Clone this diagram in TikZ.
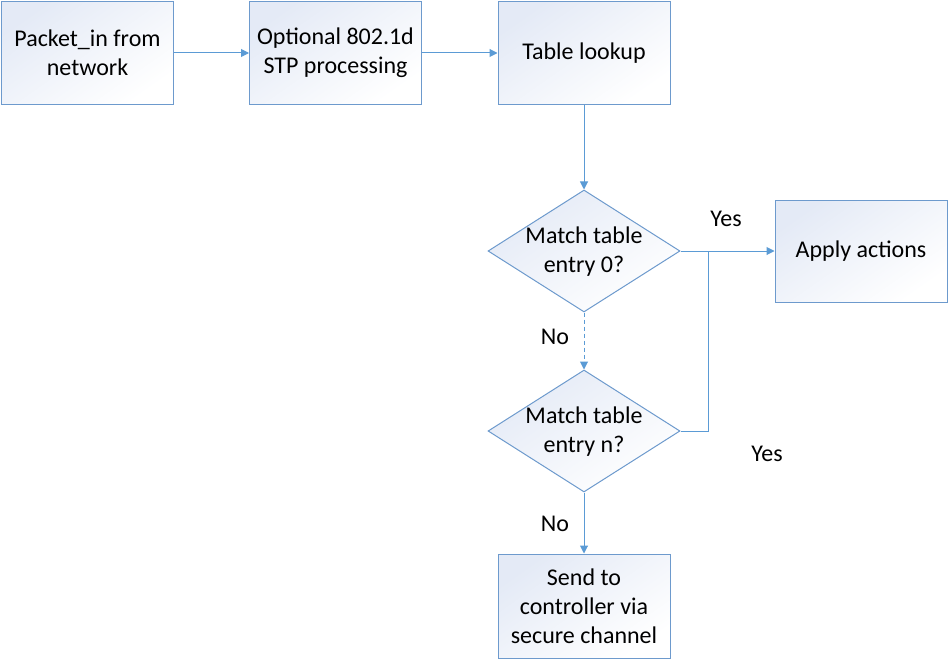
\documentclass[tikz,border=0pt]{standalone}
\usepackage{fontspec}
\setmainfont{Carlito}
\usetikzlibrary{shapes.geometric,arrows.meta}
\definecolor{edge}{RGB}{109,154,205}
\definecolor{wire}{RGB}{91,155,213}
\definecolor{tint}{RGB}{228,234,246}
\tikzset{
  x=1pt,y=-1pt,
  every node/.style={font=\fontsize{24}{29}\selectfont, text=black},
  stepbox/.style={draw=edge, line width=1pt, top color=tint, bottom color=white, shading angle=35,
    minimum width=172pt, minimum height=102pt, inner sep=0pt, align=center},
  decide/.style={diamond, draw=edge, line width=1pt, top color=tint, bottom color=white, shading angle=35,
    minimum width=192pt, minimum height=122pt, inner sep=0pt, aspect=1.57},
  wireline/.style={draw=wire, line width=1pt},
  arr/.style={wireline, -{Triangle[length=8pt,width=8pt]}},
  lbl/.style={inner sep=0pt}
}
\begin{document}
\begin{tikzpicture}
\useasboundingbox (0,0) rectangle (949,661);
\node[stepbox] (a) at (87.5,53) {Packet\_in from\\network};
\node[stepbox] (b) at (335.5,53) {Optional 802.1d\\STP processing};
\node[stepbox] (c) at (584,53) {Table lookup};
\node[decide] (d0) at (584,251) {};
\node[align=center] (t0) at (584,252) {Match table\\entry 0?};
\node[decide] (dn) at (584,431) {};
\node[align=center] (tn) at (584,432) {Match table\\entry n?};
\node[stepbox] (apply) at (861,251) {Apply actions};
\node[stepbox, minimum height=104pt] (send) at (584,606) {Send to\\controller via\\secure channel};
\coordinate (j) at (708,251);
\draw[arr] (a) -- (b);
\draw[arr] (b) -- (c);
\draw[arr] (c) -- (d0);
\draw[arr] (d0) -- (apply);
\draw[arr, dashed, dash pattern=on 4pt off 3pt] (d0) -- (dn);
\draw[wireline] (dn.east) -- (j |- dn.east) -- (j);
\draw[arr] (dn) -- (send);
\node[lbl] (yes1) at (726,219) {Yes};
\node[lbl] (yes2) at (767,454) {Yes};
\node[lbl] (no1) at (555,337) {No};
\node[lbl] (no2) at (555,524) {No};
\end{tikzpicture}
\end{document}
